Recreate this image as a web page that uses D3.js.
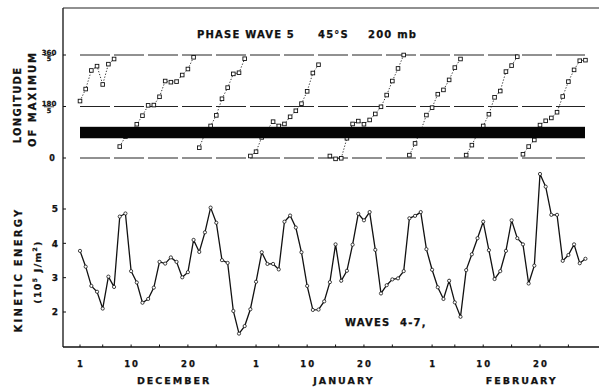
<!DOCTYPE html>
<html>
<head>
<meta charset="utf-8">
<script src="https://cdn.jsdelivr.net/npm/d3@7/dist/d3.min.js"></script>
<style>
  body { margin: 0; background: #fff; }
  text { font-family: "DejaVu Sans", sans-serif; font-weight: bold; fill: #111; stroke: #111; stroke-width: 0.25px; }
</style>
</head>
<body>
<script>
// day index 0 = 1 December, 89 = 28 February
var kineticEnergy = [3.78, 3.32, 2.76, 2.59, 2.10, 3.03, 2.73, 4.78, 4.87, 3.19,
                     2.86, 2.27, 2.38, 2.71, 3.46, 3.41, 3.59, 3.46, 3.01, 3.16,
                     4.10, 3.75, 4.32, 5.04, 4.60, 3.51, 3.43, 2.03, 1.37, 1.59,
                     2.08, 2.88, 3.74, 3.40, 3.40, 3.24, 4.63, 4.81, 4.46, 3.74,
                     2.76, 2.06, 2.07, 2.31, 2.87, 3.97, 2.91, 3.20, 3.96, 4.86,
                     4.67, 4.91, 3.81, 2.54, 2.78, 2.95, 2.98, 3.19, 4.73, 4.80,
                     4.91, 3.83, 3.23, 2.72, 2.38, 2.91, 2.28, 1.86, 3.22, 3.68,
                     4.15, 4.63, 3.80, 2.96, 3.19, 3.78, 4.67, 4.15, 3.97, 2.83,
                     3.35, 6.02, 5.65, 4.83, 4.83, 3.49, 3.66, 3.97, 3.42, 3.55];

// phase of wave 5 in degrees (longitude of maximum x 5), null = not plotted
var phase = [199, 241, 306, 321, 257, 328, 346, 40, 75, 95,
             118, 148, 184, 185, 214, 269, 265, 267, 290, 311,
             352, 36, 85, 112, 149, 207, 246, 294, 298, 347,
             7, 22, 72, 100, 127, 112, 119, 144, 165, 190,
             233, 297, 326, null, 7, -3, -1, 69, 119, 129,
             118, 133, 154, 179, 220, 269, 313, 360, 10, 51,
             95, 150, 176, 223, 238, 273, 316, 346, 10, 45,
             85, 112, 153, 212, 234, 302, 323, 354, 13, 40,
             63, 115, 130, 140, 160, 215, 267, 308, 340, 342];

var bandRange = [69, 109];          // shaded band in phase degrees
var phaseLines = [0, 180, 360];
var energyTicks = [2, 3, 4, 5];

var dayTicks = [0, 9, 19, 31, 40, 50, 62, 71, 81];
var dayTickLabels = ["1", "10", "20", "1", "10", "20", "1", "10", "20"];
var minorTicks = [0, 4, 9, 14, 19, 24, 31, 35, 40, 45, 50, 55, 62, 66, 71, 76, 81, 86];
var months = ["DECEMBER", "JANUARY", "FEBRUARY"];
var monthDays = [16.4, 46.3, 77.6];

var w = 599, h = 388;
var axisX = 63, topY = 8, bottomY = 347;

var svg = d3.select("body").append("svg")
    .attr("width", w)
    .attr("height", h);

var x = d3.scaleLinear().domain([0, 81]).range([80, 540]);
var yPhase = d3.scaleLinear().domain([0, 360]).range([158, 55]);
var yKE = d3.scaleLinear().domain([2, 5]).range([312, 209]);

// frame
svg.append("line")
   .attr("x1", axisX).attr("x2", axisX)
   .attr("y1", topY).attr("y2", bottomY)
   .attr("stroke", "#111").attr("stroke-width", 1.3);
svg.append("line")
   .attr("x1", axisX).attr("x2", w)
   .attr("y1", topY).attr("y2", topY)
   .attr("stroke", "#222").attr("stroke-width", 1.1);
svg.append("line")
   .attr("x1", axisX).attr("x2", w)
   .attr("y1", bottomY).attr("y2", bottomY)
   .attr("stroke", "#111").attr("stroke-width", 1.3);

// top panel: reference lines
svg.selectAll(".pline")
   .data(phaseLines)
   .enter().append("line")
   .attr("class", "pline")
   .attr("x1", 80).attr("x2", 585)
   .attr("y1", function(d) { return yPhase(d); })
   .attr("y2", function(d) { return yPhase(d); })
   .attr("stroke", "#222")
   .attr("stroke-width", 1)
   .attr("stroke-dasharray", "30,4");

// phase series: split where the phase wraps round
var segments = [], current = [];
phase.forEach(function(v, i) {
  if (v === null) {
    if (current.length) segments.push(current);
    current = [];
    return;
  }
  if (current.length && Math.abs(v - current[current.length - 1][1]) > 180) {
    segments.push(current);
    current = [];
  }
  current.push([i, v]);
});
if (current.length) segments.push(current);

var phaseLine = d3.line()
    .x(function(d) { return x(d[0]); })
    .y(function(d) { return yPhase(d[1]); });

svg.selectAll(".pseg")
   .data(segments)
   .enter().append("path")
   .attr("class", "pseg")
   .attr("d", phaseLine)
   .attr("fill", "none")
   .attr("stroke", "#222")
   .attr("stroke-width", 0.9)
   .attr("stroke-dasharray", "1.3,1.7");

var phasePts = phase.map(function(v, i) { return [i, v]; })
                    .filter(function(d) { return d[1] !== null; });

svg.selectAll(".psq")
   .data(phasePts)
   .enter().append("rect")
   .attr("class", "psq")
   .attr("x", function(d) { return x(d[0]) - 1.8; })
   .attr("y", function(d) { return yPhase(d[1]) - 1.8; })
   .attr("width", 3.6).attr("height", 3.6)
   .attr("fill", "#fff")
   .attr("stroke", "#111")
   .attr("stroke-width", 0.9);

// black band
svg.append("rect")
   .attr("x", 80)
   .attr("width", 505)
   .attr("y", yPhase(bandRange[1]))
   .attr("height", yPhase(bandRange[0]) - yPhase(bandRange[1]))
   .attr("fill", "#050505");

// top tick labels (fractions of 5)
phaseLines.forEach(function(v) {
  var yy = yPhase(v);
  svg.append("line")
     .attr("x1", axisX).attr("x2", axisX + 3)
     .attr("y1", yy).attr("y2", yy)
     .attr("stroke", "#111");
  if (v === 0) {
    svg.append("text")
       .attr("x", 52).attr("y", yy + 3)
       .attr("text-anchor", "middle")
       .style("font-size", "8px")
       .text("0");
  } else {
    svg.append("text")
       .attr("x", 49).attr("y", yy - 0.5)
       .attr("text-anchor", "middle")
       .style("font-size", "7px")
       .text(v);
    svg.append("line")
       .attr("x1", 44).attr("x2", 54)
       .attr("y1", yy + 0.3).attr("y2", yy + 0.3)
       .attr("stroke", "#111").attr("stroke-width", 0.8);
    svg.append("text")
       .attr("x", 49).attr("y", yy + 6)
       .attr("text-anchor", "middle")
       .style("font-size", "6.5px")
       .text("5");
  }
});

// title
var titleParts = [["PHASE WAVE 5", 197], ["45°S", 318], ["200 mb", 368]];
titleParts.forEach(function(p) {
  svg.append("text")
     .attr("x", p[1]).attr("y", 38)
     .style("font-size", "10px")
     .style("letter-spacing", "1.2px")
     .text(p[0]);
});

// bottom panel: kinetic energy
var keLine = d3.line()
    .x(function(d, i) { return x(i); })
    .y(function(d) { return yKE(d); });

svg.append("path")
   .datum(kineticEnergy)
   .attr("d", keLine)
   .attr("fill", "none")
   .attr("stroke", "#111")
   .attr("stroke-width", 1.3);

svg.selectAll(".kec")
   .data(kineticEnergy)
   .enter().append("circle")
   .attr("class", "kec")
   .attr("cx", function(d, i) { return x(i); })
   .attr("cy", function(d) { return yKE(d); })
   .attr("r", 1.6)
   .attr("fill", "#fff")
   .attr("stroke", "#111")
   .attr("stroke-width", 0.8);

energyTicks.forEach(function(v) {
  svg.append("line")
     .attr("x1", axisX).attr("x2", axisX + 3)
     .attr("y1", yKE(v)).attr("y2", yKE(v))
     .attr("stroke", "#111");
  svg.append("text")
     .attr("x", 55).attr("y", yKE(v) + 3.3)
     .attr("text-anchor", "middle")
     .style("font-size", "9px")
     .text(v);
});

svg.append("text")
   .attr("x", 345).attr("y", 326)
   .style("font-size", "10px")
   .style("letter-spacing", "1.2px")
   .text("WAVES");
svg.append("text")
   .attr("x", 400).attr("y", 326)
   .style("font-size", "10px")
   .style("letter-spacing", "1.2px")
   .text("4-7,");

// x axis
svg.selectAll(".xminor")
   .data(minorTicks)
   .enter().append("line")
   .attr("class", "xminor")
   .attr("x1", function(d) { return x(d); })
   .attr("x2", function(d) { return x(d); })
   .attr("y1", bottomY).attr("y2", bottomY - 2.5)
   .attr("stroke", "#111");

svg.selectAll(".xlab")
   .data(dayTicks)
   .enter().append("text")
   .attr("class", "xlab")
   .attr("x", function(d) { return x(d) + 1; })
   .attr("y", 367)
   .attr("text-anchor", "middle")
   .style("font-size", "8.5px")
   .style("letter-spacing", "2px")
   .text(function(d, i) { return dayTickLabels[i]; });

svg.selectAll(".mlab")
   .data(months)
   .enter().append("text")
   .attr("class", "mlab")
   .attr("x", function(d, i) { return x(monthDays[i]) + 1; })
   .attr("y", 384)
   .attr("text-anchor", "middle")
   .style("font-size", "9.5px")
   .style("letter-spacing", "2px")
   .text(function(d) { return d; });

// y axis titles
function vLabel(txt, xx, yy, size, spacing) {
  return svg.append("text")
     .attr("transform", "translate(" + xx + "," + yy + ") rotate(-90)")
     .attr("text-anchor", "middle")
     .style("font-size", size + "px")
     .style("letter-spacing", spacing + "px")
     .text(txt);
}
vLabel("LONGITUDE", 21, 105, 10, 1.3);
vLabel("OF MAXIMUM", 36, 99, 10, 2);
vLabel("KINETIC ENERGY", 22, 270, 10, 2.3);

var unit = svg.append("text")
   .attr("transform", "translate(41,272) rotate(-90)")
   .attr("text-anchor", "middle")
   .style("font-size", "9.5px")
   .style("letter-spacing", "1.3px");
unit.append("tspan").text("(10");
unit.append("tspan").attr("dy", -4).style("font-size", "6px").text("5");
unit.append("tspan").attr("dy", 4).text(" J/m");
unit.append("tspan").attr("dy", -4).style("font-size", "6px").text("2");
unit.append("tspan").attr("dy", 4).text(")");
</script>
</body>
</html>
